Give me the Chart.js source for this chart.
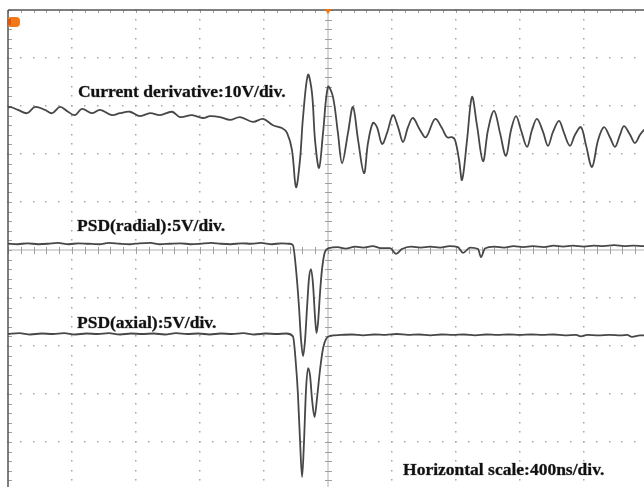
<!DOCTYPE html>
<html>
<head>
<meta charset="utf-8">
<script src="https://cdn.jsdelivr.net/npm/chart.js@4/dist/chart.umd.min.js"></script>
<style>
  html, body { margin: 0; padding: 0; overflow: hidden; background: #fff; }
  #wrap { position: absolute; left: 0; top: 0; width: 656px; height: 500px; }
</style>
</head>
<body>
<div id="wrap"><canvas id="scope"></canvas></div>
<script>
// time in ns (400 ns/div), amplitude in screen divisions (0 = centre line)
const didtTime = [0, 12, 62, 119, 169, 231, 275, 325, 375, 419, 462, 525, 575, 650, 700, 762, 825, 888, 950, 1025,
  1075, 1150, 1219, 1262, 1325, 1388, 1450, 1531, 1594, 1656, 1712, 1744, 1775, 1800, 1825, 1844, 1875, 1900, 1919, 1944,
  1969, 2000, 2031, 2062, 2088, 2125, 2156, 2188, 2225, 2250, 2281, 2306, 2338, 2369, 2406, 2438, 2469, 2500, 2531, 2575,
  2612, 2669, 2712, 2744, 2775, 2794, 2819, 2838, 2869, 2900, 2931, 2969, 3000, 3038, 3075, 3112, 3144, 3175, 3206, 3244,
  3275, 3306, 3344, 3375, 3406, 3444, 3475, 3512, 3544, 3581, 3612, 3650, 3688, 3725, 3762, 3794, 3825, 3850, 3888, 3919,
  3950, 3975, 4000];
const didtDiv = [2.96, 2.98, 2.92, 2.85, 2.98, 2.92, 2.85, 2.98, 2.88, 2.81, 2.94, 2.85, 2.92, 2.81, 2.85, 2.88, 2.79, 2.85, 2.81, 2.88,
  2.77, 2.81, 2.75, 2.79, 2.77, 2.71, 2.77, 2.67, 2.73, 2.60, 2.54, 2.44, 2.08, 1.31, 1.88, 2.77, 3.65, 3.27, 2.29, 1.71,
  2.44, 3.40, 3.19, 2.44, 1.81, 2.44, 2.98, 2.29, 1.60, 2.23, 2.65, 2.56, 2.21, 2.44, 2.81, 2.56, 2.25, 2.56, 2.75, 2.50,
  2.35, 2.73, 2.54, 2.35, 2.35, 2.29, 1.88, 1.46, 2.29, 3.19, 2.60, 1.85, 2.50, 2.90, 2.44, 1.96, 2.50, 2.79, 2.50, 2.15,
  2.50, 2.73, 2.46, 2.17, 2.46, 2.69, 2.44, 2.17, 2.40, 2.56, 2.19, 1.73, 2.29, 2.56, 2.35, 2.15, 2.40, 2.58, 2.40, 2.23,
  2.40, 2.50, 2.54];

const radialTime = [0, 60, 120, 190, 250, 310, 380, 440, 500, 570, 630, 700, 760, 820, 890, 950, 1010, 1080, 1140, 1200,
  1270, 1330, 1390, 1460, 1520, 1580, 1650, 1710, 1760, 1781, 1800, 1819, 1831, 1844, 1856, 1869, 1881, 1894, 1906, 1919,
  1928, 1938, 1950, 1962, 1981, 2006, 2060, 2110, 2170, 2220, 2280, 2330, 2388, 2425, 2462, 2520, 2580, 2638, 2700, 2760,
  2812, 2844, 2888, 2938, 2956, 2981, 3040, 3100, 3160, 3220, 3280, 3350, 3410, 3470, 3530, 3600, 3660, 3720, 3790, 3850,
  3910, 3975, 4000];
const radialDiv = [0.13, 0.12, 0.14, 0.12, 0.13, 0.15, 0.12, 0.14, 0.13, 0.12, 0.15, 0.13, 0.12, 0.14, 0.15, 0.12, 0.13, 0.14, 0.12, 0.13,
  0.15, 0.13, 0.12, 0.14, 0.13, 0.15, 0.12, 0.14, 0.13, 0.10, -0.40, -1.20, -1.85, -2.21, -1.90, -1.20, -0.60, -0.40, -0.70, -1.40,
  -1.73, -1.50, -0.90, -0.42, -0.04, 0.04, 0.06, 0.03, 0.07, 0.05, 0.08, 0.04, 0.04, -0.08, 0.02, 0.07, 0.05, 0.07, 0.05, 0.08,
  0.06, -0.06, 0.05, 0.02, -0.15, 0.03, 0.07, 0.05, 0.08, 0.06, 0.08, 0.06, 0.09, 0.07, 0.09, 0.07, 0.09, 0.08, 0.10, 0.08,
  0.09, 0.08, 0.09];

const axialTime = [0, 70, 140, 210, 280, 350, 420, 490, 560, 630, 700, 770, 840, 910, 980, 1050, 1120, 1190, 1260, 1330,
  1400, 1470, 1540, 1610, 1680, 1740, 1781, 1800, 1812, 1825, 1838, 1850, 1862, 1875, 1888, 1900, 1916, 1931, 1950, 1969,
  1988, 2012, 2080, 2150, 2220, 2290, 2360, 2430, 2500, 2570, 2640, 2710, 2780, 2850, 2920, 2990, 3060, 3130, 3200, 3270,
  3340, 3410, 3480, 3550, 3580, 3620, 3690, 3760, 3830, 3870, 3900, 3950, 4000];
const axialDiv = [-1.75, -1.73, -1.76, -1.74, -1.75, -1.73, -1.76, -1.74, -1.75, -1.73, -1.76, -1.74, -1.75, -1.74, -1.76, -1.73, -1.75, -1.74, -1.76, -1.74,
  -1.75, -1.73, -1.76, -1.74, -1.75, -1.74, -1.80, -2.40, -3.00, -3.96, -4.73, -4.00, -2.95, -2.46, -2.62, -3.10, -3.48, -3.10, -2.50, -2.05,
  -1.85, -1.79, -1.77, -1.76, -1.78, -1.76, -1.77, -1.75, -1.77, -1.76, -1.78, -1.76, -1.77, -1.76, -1.78, -1.76, -1.77, -1.76, -1.77, -1.76,
  -1.77, -1.76, -1.78, -1.77, -1.80, -1.77, -1.78, -1.77, -1.78, -1.77, -1.81, -1.78, -1.78];

const traceLabels = ['Current derivative:10V/div.', 'PSD(radial):5V/div.', 'PSD(axial):5V/div.', 'Horizontal scale:400ns/div.'];

const toPoints = (xs, ys) => xs.map((x, i) => ({ x: x, y: ys[i] }));

const graticule = {
  id: 'graticule',
  beforeDatasetsDraw: chart => {
    const ctx = chart.ctx;
    const xs = chart.scales.x, ys = chart.scales.y;
    const { left, top, right, bottom } = chart.chartArea;
    ctx.save();
    // dotted division lines
    ctx.fillStyle = '#a6a6a6';
    for (let i = 1; i < 10; i++) {
      if (i === 5) continue;
      const px = xs.getPixelForValue(i * 400);
      for (let v = -5; v <= 5.001; v += 0.2) {
        const py = ys.getPixelForValue(v);
        ctx.fillRect(Math.round(px) - 1, Math.round(py) - 1, 1.5, 1.5);
      }
    }
    for (let j = -4; j <= 4; j++) {
      if (j === 0) continue;
      const py = ys.getPixelForValue(j);
      for (let t = 0; t <= 4000; t += 80) {
        const px = xs.getPixelForValue(t);
        ctx.fillRect(Math.round(px) - 1, Math.round(py) - 1, 1.5, 1.5);
      }
    }
    // centre axes with minor ticks
    const cx = xs.getPixelForValue(2000), cy = ys.getPixelForValue(0);
    ctx.strokeStyle = '#cccccc';
    ctx.lineWidth = 1.5;
    ctx.beginPath();
    ctx.moveTo(left, cy); ctx.lineTo(right, cy);
    ctx.moveTo(cx, top); ctx.lineTo(cx, bottom);
    ctx.stroke();
    ctx.strokeStyle = '#a0a0a0';
    ctx.lineWidth = 1;
    ctx.beginPath();
    for (let t = 0; t <= 4000; t += 80) {
      const px = Math.round(xs.getPixelForValue(t)) + 0.5;
      ctx.moveTo(px, cy - 3); ctx.lineTo(px, cy + 4);
    }
    for (let v = -5; v <= 5.001; v += 0.2) {
      const py = Math.round(ys.getPixelForValue(v)) + 0.5;
      ctx.moveTo(cx - 3, py); ctx.lineTo(cx + 4, py);
      ctx.moveTo(left, py); ctx.lineTo(left + 4, py);
    }
    for (let t = 0; t <= 4000; t += 80) {
      const px = Math.round(xs.getPixelForValue(t)) + 0.5;
      ctx.moveTo(px, top); ctx.lineTo(px, top + 3);
    }
    ctx.stroke();
    // frame: top and left edges
    ctx.strokeStyle = '#555';
    ctx.lineWidth = 1.5;
    ctx.beginPath();
    ctx.moveTo(left, top); ctx.lineTo(right, top);
    ctx.moveTo(left, top); ctx.lineTo(left, bottom);
    ctx.stroke();
    ctx.restore();
  },
  afterDatasetsDraw: chart => {
    const ctx = chart.ctx;
    const xs = chart.scales.x, ys = chart.scales.y;
    const { left, top } = chart.chartArea;
    ctx.save();
    ctx.font = 'bold 17.5px "Liberation Serif", "Times New Roman", serif';
    ctx.fillStyle = '#111';
    ctx.strokeStyle = 'rgba(17,17,17,0.5)';
    ctx.lineWidth = 0.6;
    ctx.textBaseline = 'alphabetic';
    const spots = [[437, 3.19], [431, 0.40], [431, -1.625], [2469, -4.69]];
    traceLabels.forEach((txt, i) => {
      const px = xs.getPixelForValue(spots[i][0]), py = ys.getPixelForValue(spots[i][1]);
      ctx.fillText(txt, px, py);
      ctx.strokeText(txt, px, py);
    });
    // channel 1 marker
    ctx.fillStyle = '#f07a1a';
    ctx.beginPath();
    ctx.roundRect(left - 1, top + 7, 13, 10, 4);
    ctx.fill();
    ctx.fillStyle = '#e0560a';
    ctx.fillRect(left - 1, top + 9, 4, 6);
    // trigger position marker
    const tx = xs.getPixelForValue(2000);
    ctx.fillStyle = '#f07a1a';
    ctx.beginPath();
    ctx.moveTo(tx - 3.5, top - 1); ctx.lineTo(tx + 3.5, top - 1); ctx.lineTo(tx, top + 4);
    ctx.closePath();
    ctx.fill();
    ctx.restore();
  }
};

const traceStyle = {
  borderColor: '#474747',
  borderWidth: 1.8,
  pointRadius: 0,
  fill: false
};

new Chart(document.getElementById('scope'), {
  type: 'line',
  plugins: [graticule],
  data: {
    datasets: [
      Object.assign({ label: 'Current derivative', data: toPoints(didtTime, didtDiv), tension: 0.35 }, traceStyle),
      Object.assign({ label: 'PSD radial', data: toPoints(radialTime, radialDiv), cubicInterpolationMode: 'monotone' }, traceStyle),
      Object.assign({ label: 'PSD axial', data: toPoints(axialTime, axialDiv), cubicInterpolationMode: 'monotone' }, traceStyle)
    ]
  },
  options: {
    responsive: true,
    maintainAspectRatio: false,
    animation: false,
    events: [],
    layout: { padding: { left: 8, top: 10, right: 8, bottom: 10 } },
    plugins: { legend: { display: false }, tooltip: { enabled: false } },
    scales: {
      x: { type: 'linear', min: 0, max: 4000, display: false },
      y: { type: 'linear', min: -5, max: 5, display: false }
    }
  }
});
</script>
</body>
</html>
